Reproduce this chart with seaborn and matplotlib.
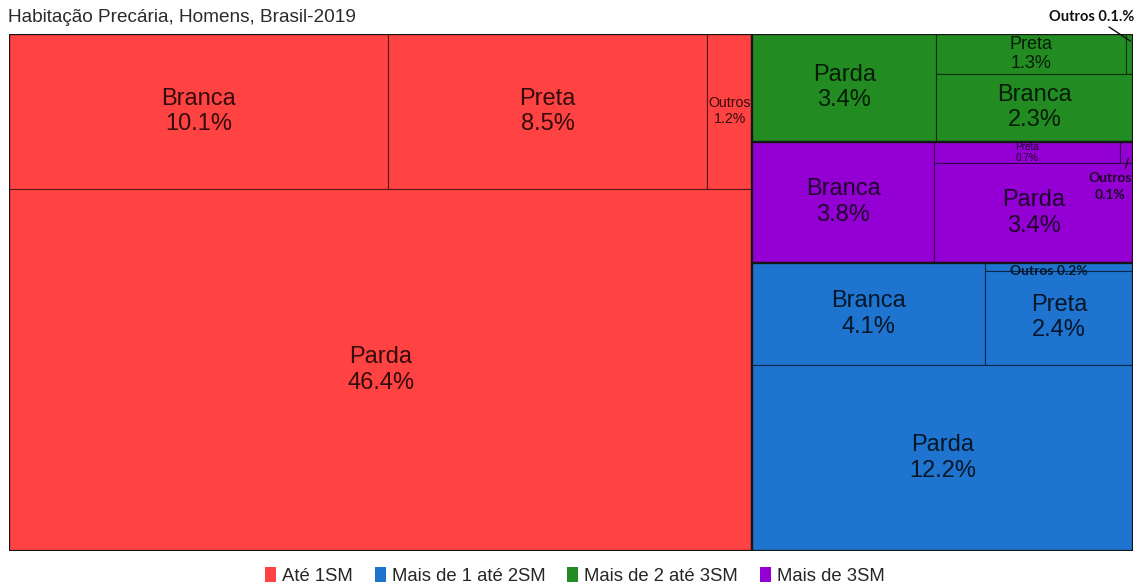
"""
Treemap of precarious housing among men in Brazil (2019), by income band and race.
"""

import matplotlib
matplotlib.use('Agg')
import matplotlib.pyplot as plt
from matplotlib.patches import Rectangle, Patch
from matplotlib.colors import to_rgb
import seaborn as sns
import numpy as np

sns.set_theme(style="white")
plt.rcParams['font.family'] = ['Liberation Sans', 'DejaVu Sans']

# Data
TITLE = "Habitação Precária, Homens, Brasil-2019"
groups = ["Até 1SM", "Mais de 1 até 2SM", "Mais de 2 até 3SM", "Mais de 3SM"]
group_colors = ["#FF4242", "#1E74CF", "#228B22", "#9400D3"]

ate_1sm_races = ["Branca", "Preta", "Outros", "Parda"]
ate_1sm_values = [10.1, 8.5, 1.2, 46.4]

de_1_a_2sm_races = ["Branca", "Preta", "Outros", "Parda"]
de_1_a_2sm_values = [4.1, 2.4, 0.2, 12.2]

de_2_a_3sm_races = ["Parda", "Preta", "Outros", "Branca"]
de_2_a_3sm_values = [3.4, 1.3, 0.05, 2.3]

mais_3sm_races = ["Branca", "Preta", "Outros", "Parda"]
mais_3sm_values = [3.8, 0.7, 0.05, 3.4]

races = [ate_1sm_races, de_1_a_2sm_races, de_2_a_3sm_races, mais_3sm_races]
values = [ate_1sm_values, de_1_a_2sm_values, de_2_a_3sm_values, mais_3sm_values]

# Slice structure of the treemap ('h' = side by side, 'v' = stacked top to bottom)
root_structure = ('h', [0, ('v', [2, 3, 1])])
group_structures = [
    ('v', [('h', [0, 1, 2]), 3]),
    ('v', [('h', [0, ('v', [2, 1])]), 3]),
    ('h', [0, ('v', [('h', [1, 2]), 3])]),
    ('h', [0, ('v', [('h', [1, 2]), 3])]),
]

# text for the small cells that get a call-out instead of an inner label
callout_text = {1: "Outros 0.2%", 2: "Outros 0.1.%", 3: "Outros\n0.1%"}


def node_total(node, vals):
    if isinstance(node, int):
        return vals[node]
    return sum(node_total(child, vals) for child in node[1])


def layout(node, rect, vals, out):
    """Recursively slices rect (x, y, w, h) proportionally to the values."""
    if isinstance(node, int):
        out[node] = rect
        return
    direction, children = node
    x, y, w, h = rect
    weights = [node_total(child, vals) for child in children]
    total = sum(weights)
    pos = 0.0
    for child, wt in zip(children, weights):
        frac = wt / total
        if direction == 'h':
            sub = (x + pos * w, y, frac * w, h)
        else:
            sub = (x, y + pos * h, w, frac * h)
        pos += frac
        layout(child, sub, vals, out)


def shade(color, k):
    return tuple(np.array(to_rgb(color)) * k)


W, H = 1124, 517   # axes size in pixels, used as data units

fig = plt.figure(figsize=(11.36, 5.85), dpi=100)
ax = fig.add_axes([9 / 1136, 34 / 585, W / 1136, H / 585])
ax.set_xlim(0, W)
ax.set_ylim(H, 0)
ax.axis("off")

group_rects = {}
layout(root_structure, (0, 0, W, H), [sum(v) for v in values], group_rects)

for g, grect in group_rects.items():
    color = group_colors[g]
    text_color = shade(color, 0.2)
    cells = {}
    layout(group_structures[g], grect, values[g], cells)

    for i, (x, y, w, h) in cells.items():
        ax.add_patch(Rectangle((x, y), w, h, facecolor=color,
                               edgecolor=shade(color, 0.35), lw=0.8))
        race, val = races[g][i], values[g][i]

        if race == "Outros" and g in callout_text:
            # tiny cells: bold call-out next to the cell
            if g == 2:
                ax.text(x + w + 1, y - 17, callout_text[g], ha="right", va="center",
                        fontsize=10.5, fontweight="bold", family="Lato", color="#111111", clip_on=False)
                ax.plot([x + w - 24, x + w / 2 + 1], [y - 7, y + 7], color="#111111", lw=1, clip_on=False)
            elif g == 3:
                ax.text(x + w - 23, y + h + 23, callout_text[g], ha="center", va="center",
                        fontsize=10, fontweight="bold", family="Lato", color=text_color, linespacing=1.5)
                ax.plot([x + w / 2 + 2, x + w / 2 - 1], [y + h - 5, y + h + 5], color=text_color, lw=1)
            else:
                ax.text(x + w / 2 - 10, y + h / 2 + 4, callout_text[g], ha="center", va="center",
                        fontsize=10, fontweight="bold", family="Lato", color=text_color)
            continue

        # fit the two line label inside the cell
        fs = min(17, h / 3.06, w / (3.2 * 1.39))
        ax.text(x + w / 2, y + h / 2, f"{race}\n{val:.1f}%", ha="center", va="center",
                fontsize=fs, color=text_color, linespacing=1.2)

    gx, gy, gw, gh = grect
    ax.add_patch(Rectangle((gx, gy), gw, gh, facecolor="none",
                           edgecolor="#151515", lw=1.6))

fig.text(8 / 1136, 1 - 17 / 585, TITLE, ha="left", va="center", fontsize=13.7, color="#2b2b2b")

handles = [Patch(facecolor=c, edgecolor="none") for c in group_colors]
fig.legend(handles, groups, loc="center", bbox_to_anchor=(0.506, 1 - 576 / 585), ncol=4,
           frameon=False, fontsize=13.3, handlelength=0.6, handleheight=0.9,
           handletextpad=0.3, columnspacing=1.2)

fig.savefig("out.png", dpi=100)
plt.close(fig)
